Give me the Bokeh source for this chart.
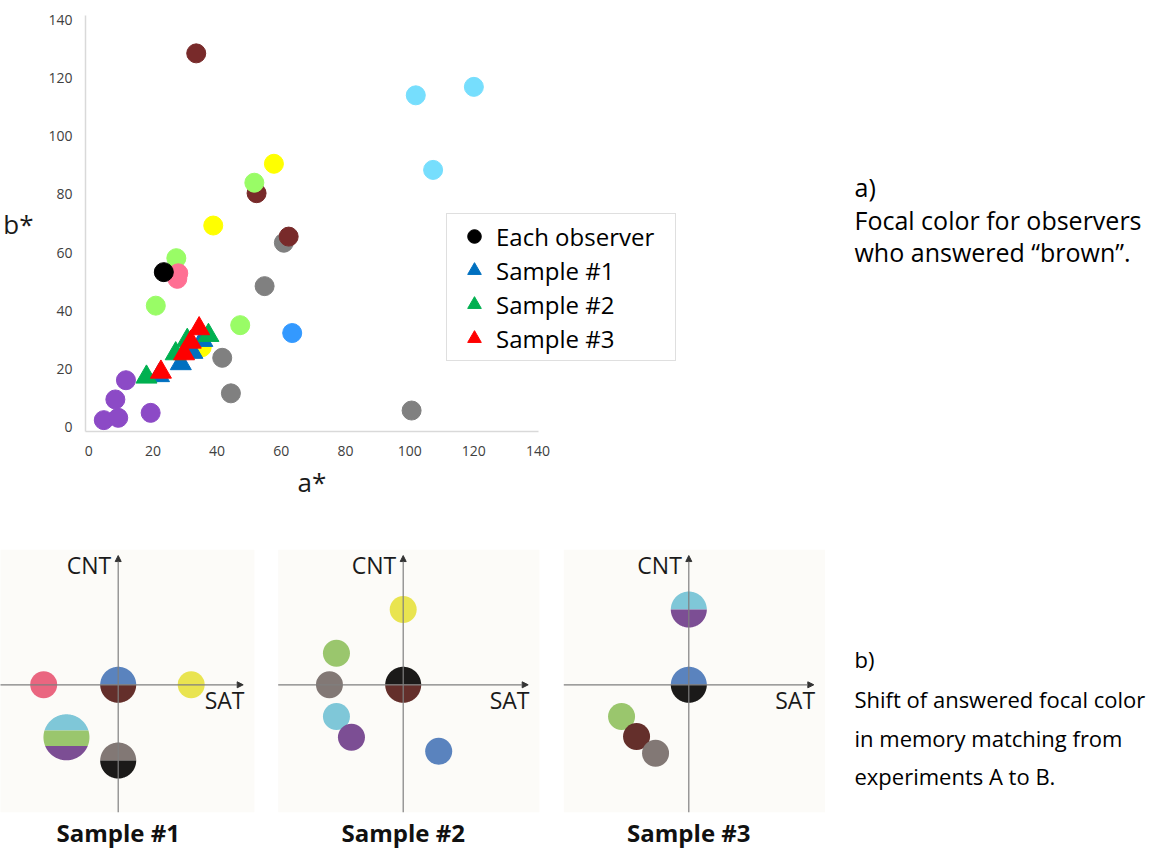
import numpy as np
from bokeh.plotting import figure
from bokeh.models import (Range1d, Legend, LegendItem, Arrow, NormalHead,
                          BoxAnnotation, FixedTicker, Title)
from bokeh.layouts import row, column
from bokeh.embed import file_html
from bokeh.resources import INLINE
from bokeh.core.properties import value

# ---------------- panel a) data : a*, b* of focal colours ----------------
gray_a = [60.8, 54.8, 41.6, 44.3, 100.6]
gray_b = [63.4, 48.5, 23.9, 11.7, 5.8]
brown_a = [33.5, 52.3, 62.3]
brown_b = [128.4, 80.4, 65.5]
purple_a = [11.6, 8.3, 4.7, 9.2, 19.3]
purple_b = [16.2, 9.6, 2.5, 3.3, 5.0]
yellow_a = [57.7, 38.8, 35.2]
yellow_b = [90.5, 69.3, 27.5]
green_a = [51.6, 27.3, 20.9, 47.2]
green_b = [84.0, 58.1, 41.8, 35.1]
cyan_a = [101.9, 120.0, 107.3]
cyan_b = [114.0, 116.9, 88.4]
pink_a = [27.9, 27.6]
pink_b = [52.9, 51.0]
blue_a = [63.4]
blue_b = [32.4]
black_a = [23.4]
black_b = [53.3]

sample1_a = [21.9, 28.7, 32.3, 35.4]
sample1_b = [17.8, 21.9, 25.8, 29.9]
sample2_a = [18.0, 27.1, 30.7, 37.3]
sample2_b = [17.3, 25.3, 29.9, 31.6]
sample3_a = [22.5, 29.7, 31.8, 34.4]
sample3_b = [19.0, 25.3, 29.3, 33.9]

x_ticks = [0, 20, 40, 60, 80, 100, 120, 140]
y_ticks = [0, 20, 40, 60, 80, 100, 120, 140]
legend_labels = ["Each observer", "Sample #1", "Sample #2", "Sample #3"]

# ---------------- panel b) data : SAT / CNT shifts ----------------
C_PINK, C_BLUE, C_BROWN, C_YELLOW = "#ea6680", "#5a83be", "#642f2b", "#e9e450"
C_CYAN, C_GREEN, C_PURPLE, C_GRAY, C_BLACK = "#7fc7d8", "#9ac66d", "#7c4e94", "#827875", "#1b1a19"

s1_sat = [-2.98, 2.92]
s1_cnt = [0.0, 0.0]
s1_col = [C_PINK, C_YELLOW]
s1_split_sat = [0.0, -2.07, 0.0]
s1_split_cnt = [0.0, -2.10, -3.03]
s1_split_col = [[C_BLUE, C_BROWN], [C_CYAN, C_GREEN, C_PURPLE], [C_GRAY, C_BLACK]]

s2_sat = [0.0, -2.67, -2.95, -2.67, -2.07, 1.42]
s2_cnt = [3.01, 1.26, 0.0, -1.27, -2.10, -2.66]
s2_col = [C_YELLOW, C_GREEN, C_GRAY, C_CYAN, C_PURPLE, C_BLUE]
s2_split_sat = [0.0]
s2_split_cnt = [0.0]
s2_split_col = [[C_BLACK, C_BROWN]]

s3_sat = [-2.69, -2.09, -1.33]
s3_cnt = [-1.27, -2.07, -2.74]
s3_col = [C_GREEN, C_BROWN, C_GRAY]
s3_split_sat = [0.0, 0.0]
s3_split_cnt = [3.01, 0.0]
s3_split_col = [[C_CYAN, C_PURPLE], [C_BLUE, C_BLACK]]

FONT = value("Open Sans")

# ---------------- scatter figure ----------------
TOP_H = 528
p = figure(width=828, height=TOP_H, x_range=Range1d(-1, 185), y_range=Range1d(-1.4, 141.4),
           output_backend="svg", toolbar_location=None,
           min_border_left=83, min_border_right=146, min_border_top=15, min_border_bottom=97)
p.grid.visible = False
p.outline_line_color = None
p.xaxis.ticker = FixedTicker(ticks=x_ticks)
p.yaxis.ticker = FixedTicker(ticks=y_ticks)
p.xaxis.bounds = (-1, 140)
for ax in (p.xaxis[0], p.yaxis[0]):
    ax.axis_line_color = "#d9d9d9"
    ax.axis_line_width = 1.5
    ax.major_tick_line_color = None
    ax.minor_tick_line_color = None
    ax.major_label_text_font = "Open Sans"
    ax.major_label_text_font_size = "14px"
    ax.major_label_text_color = "#404040"
    ax.axis_label_text_font = "Open Sans"
    ax.axis_label_text_font_size = "26px"
    ax.axis_label_text_font_style = "normal"
    ax.axis_label_text_color = "#1a1a1a"
p.yaxis.axis_label = "b*"
p.yaxis.axis_label_orientation = "horizontal"
p.xaxis.major_label_standoff = 8
p.yaxis.major_label_standoff = 7
p.yaxis.axis_label_standoff = 12

# x-axis title placed under the bounded axis (frame is wider for the legend)
p.add_layout(Title(text="a*", align="left", offset=212, standoff=6,
                   text_font="Open Sans", text_font_size="26px",
                   text_font_style="normal", text_color="#1a1a1a"), "below")

S = 19
p.scatter(gray_a, gray_b, size=S, color="#808080")
p.scatter(brown_a, brown_b, size=S, color="#782a2a")
p.scatter(purple_a, purple_b, size=S, color="#8c4ac6")
p.scatter(yellow_a, yellow_b, size=S, color="#ffff00")
p.scatter(green_a, green_b, size=S, color="#99fc66")
p.scatter(cyan_a, cyan_b, size=S, color="#76defd")
p.scatter(pink_a, pink_b, size=S, color="#ff6f93")
p.scatter(blue_a, blue_b, size=S, color="#3399ff")
r_black = p.scatter(black_a, black_b, size=S, color="#000000")
r1 = p.scatter(sample1_a, sample1_b, marker="triangle", size=21, color="#0070c0")
r2 = p.scatter(sample2_a, sample2_b, marker="triangle", size=21, color="#00b050")
r3 = p.scatter(sample3_a, sample3_b, marker="triangle", size=21, color="#ff0000")

legend = Legend(items=[LegendItem(label=legend_labels[0], renderers=[r_black]),
                       LegendItem(label=legend_labels[1], renderers=[r1]),
                       LegendItem(label=legend_labels[2], renderers=[r2]),
                       LegendItem(label=legend_labels[3], renderers=[r3])],
                location=(361, 70), orientation="vertical",
                glyph_width=44, glyph_height=34, label_height=34, label_width=174,
                spacing=0, padding=5, margin=0, label_standoff=0,
                label_text_font="Open Sans", label_text_font_size="24px",
                label_text_color="#000000",
                border_line_color="#c0c0c0", border_line_width=1.5,
                background_fill_color="white", background_fill_alpha=1)
p.add_layout(legend)


def text_fig(w, h):
    f = figure(width=w, height=h, x_range=Range1d(0, w), y_range=Range1d(h, 0),
               x_axis_type=None, y_axis_type=None, output_backend="svg",
               toolbar_location=None, min_border=0)
    f.grid.visible = False
    f.outline_line_color = None
    return f


ta = text_fig(329, TOP_H)
ta.text(x=[26, 26, 26], y=[218, 259, 300],
        text=["a)", "Focal color for observers", "who answered “brown”."],
        text_font=FONT, text_font_size="25px", text_baseline="middle",
        text_color="#000000")

# ---------------- panels b) ----------------
U = 25.0
PH = 324
OY = 156.3


def band(cx, cy, r, f0, f1, n=40):
    ts = np.linspace(np.arcsin(f0), np.arcsin(f1), n)
    xr = cx + r * np.cos(ts)
    yr = cy + r * np.sin(ts)
    xl = cx - r * np.cos(ts[::-1])
    yl = cy + r * np.sin(ts[::-1])
    return list(np.concatenate([xr, xl])), list(np.concatenate([yr, yl]))


def panel(w, ox, sat, cnt, col, ssat, scnt, scol, caption):
    f = figure(width=w, height=PH, x_range=Range1d(-ox / U, (w - ox) / U),
               y_range=Range1d(-(PH - OY) / U, OY / U),
               x_axis_type=None, y_axis_type=None, output_backend="svg",
               toolbar_location=None, min_border=0)
    f.grid.visible = False
    f.outline_line_color = None
    f.add_layout(BoxAnnotation(left=-5.0, right=5.45, bottom=-5.1, top=5.4,
                               fill_color="#fcfbf8", fill_alpha=1, line_color=None,
                               level="underlay"))
    f.add_layout(Arrow(x_start=-5.0, y_start=0, x_end=5.0, y_end=0,
                       line_color="#7f7f7f", line_width=1.2,
                       end=NormalHead(size=6, fill_color="#333333", line_color="#333333")))
    f.add_layout(Arrow(x_start=0, y_start=-5.1, x_end=0, y_end=5.17,
                       line_color="#7f7f7f", line_width=1.2,
                       end=NormalHead(size=6, fill_color="#333333", line_color="#333333")))
    f.text(x=[-0.28], y=[4.8], text=["CNT"], text_font=FONT, text_font_size="23px",
           text_align="right", text_baseline="middle", text_color="#1a1a1a")
    f.text(x=[5.05], y=[-0.6], text=["SAT"], text_font=FONT, text_font_size="23px",
           text_align="right", text_baseline="middle", text_color="#1a1a1a")
    # split circles
    for cx, cy, cols in zip(ssat, scnt, scol):
        k = len(cols)
        r = 0.72 if k == 2 else 0.92
        bounds = [1.0, 0.0, -1.0] if k == 2 else [1.0, 0.3, -0.38, -1.0]
        xs, ys = [], []
        for i in range(k):
            bx, by = band(cx, cy, r, bounds[i + 1], bounds[i])
            xs.append(bx)
            ys.append(by)
        f.patches(xs, ys, fill_color=cols, line_color=None)
    for x, y, c in zip(sat, cnt, col):
        f.circle(x=[x], y=[y], radius=0.54, fill_color=c, line_color=None)
    f.text(x=[0], y=[(OY - 304) / U], text=[caption], text_font=FONT,
           text_font_size="24px", text_font_style="bold", text_align="center",
           text_baseline="middle", text_color="#111111")
    return f


p1 = panel(265, 117.7, s1_sat, s1_cnt, s1_col, s1_split_sat, s1_split_cnt, s1_split_col, "Sample #1")
p2 = panel(285, 137.7, s2_sat, s2_cnt, s2_col, s2_split_sat, s2_split_cnt, s2_split_col, "Sample #2")
p3 = panel(280, 138.3, s3_sat, s3_cnt, s3_col, s3_split_sat, s3_split_cnt, s3_split_col, "Sample #3")

tb = text_fig(327, PH)
tb.text(x=[24, 24, 24, 24], y=[130, 170, 209, 247],
        text=["b)", "Shift of answered focal color", "in memory matching from",
              "experiments A to B."],
        text_font=FONT, text_font_size="22px", text_baseline="middle",
        text_color="#000000")

layout = column(row(p, ta), row(p1, p2, p3, tb))
open("out.html", "w").write(file_html(layout, INLINE))
